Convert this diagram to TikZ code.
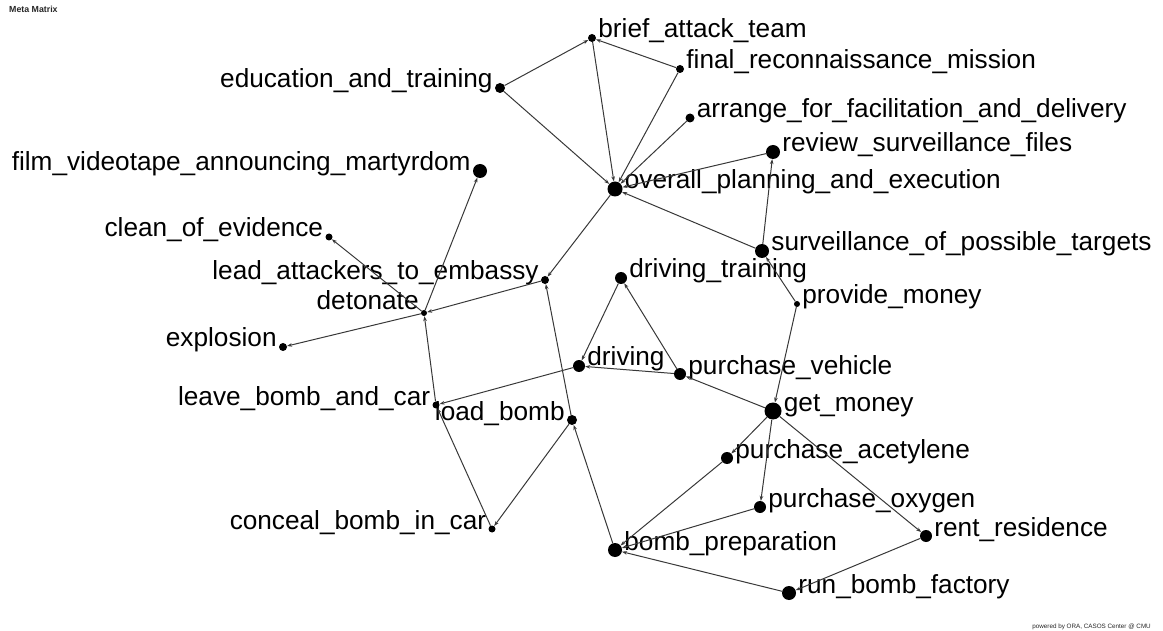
\documentclass[tikz,border=0pt]{standalone}
\usepackage{fontspec}
\setmainfont{Liberation Sans}
\usetikzlibrary{arrows.meta}
\begin{document}
\begin{tikzpicture}[x=1pt,y=-1pt,
  dot/.style={circle,fill=black,inner sep=0pt,minimum size=#1},
  lbl/.style={inner sep=0pt,font=\fontsize{26.2}{30}\selectfont,text=black},
  R/.style={label={[lbl,anchor=base west]east:#1}},
  L/.style={label={[lbl,anchor=base east]west:#1}},
  label distance=2pt,
  edge/.style={draw=black!78,line width=1pt,-{Stealth[length=5pt,width=3.6pt]}}
]
\useasboundingbox (0,0) rectangle (1163,631);

% captions
\node[anchor=base west,inner sep=0pt,font=\bfseries\fontsize{8.8}{9}\selectfont,text=black!85] (title) at (9,13) {Meta Matrix};
\node[anchor=base east,inner sep=0pt,font=\fontsize{6.3}{7}\selectfont,text=black!85] (credit) at (1151,628) {powered by ORA, CASOS Center @ CMU};

% tasks
\node[dot=8pt,R={brief\_attack\_team}] (brief) at (592,38) {};
\node[dot=8pt,R={final\_reconnaissance\_mission}] (final) at (680,69) {};
\node[dot=10pt,L={education\_and\_training}] (edu) at (500,88) {};
\node[dot=9pt,R={arrange\_for\_facilitation\_and\_delivery}] (arrange) at (690,118) {};
\node[dot=14pt,R={review\_surveillance\_files}] (review) at (773,152) {};
\node[dot=14pt,L={film\_videotape\_announcing\_martyrdom}] (film) at (480,171) {};
\node[dot=15pt,R={overall\_planning\_and\_execution}] (overall) at (615,189) {};
\node[dot=7pt,L={clean\_of\_evidence}] (clean) at (329,237) {};
\node[dot=14pt,R={surveillance\_of\_possible\_targets}] (surv) at (762,251) {};
\node[dot=8pt,L={lead\_attackers\_to\_embassy}] (lead) at (545,280) {};
\node[dot=12pt,R={driving\_training}] (dtrain) at (621,278) {};
\node[dot=6pt,R={provide\_money}] (provide) at (797,304) {};
\node[dot=6pt,label={[lbl,anchor=base east,yshift=3pt]west:detonate}] (detonate) at (424,313) {};
\node[dot=8pt,L={explosion}] (explosion) at (283,347) {};
\node[dot=12pt,R={driving}] (driving) at (579,366) {};
\node[dot=12pt,R={purchase\_vehicle}] (pvehicle) at (680,374) {};
\node[dot=7pt,L={leave\_bomb\_and\_car}] (leave) at (436,405) {};
\node[dot=10pt,L={load\_bomb}] (load) at (572,420) {};
\node[dot=17pt,R={get\_money}] (getmoney) at (773,411) {};
\node[dot=12pt,R={purchase\_acetylene}] (acet) at (727,458) {};
\node[dot=12pt,R={purchase\_oxygen}] (oxygen) at (760,507) {};
\node[dot=7pt,L={conceal\_bomb\_in\_car}] (conceal) at (492,529) {};
\node[dot=12pt,R={rent\_residence}] (rent) at (926,536) {};
\node[dot=14pt,R={bomb\_preparation}] (bprep) at (615,550) {};
\node[dot=14pt,R={run\_bomb\_factory}] (factory) at (789,593) {};

% precedence links
\draw[edge] (edu) -- (brief);
\draw[edge] (edu) -- (overall);
\draw[edge] (final) -- (brief);
\draw[edge] (brief) -- (overall);
\draw[edge] (final) -- (overall);
\draw[edge] (arrange) -- (overall);
\draw[edge] (review) -- (overall);
\draw[edge] (surv) -- (review);
\draw[edge] (surv) -- (overall);
\draw[edge] (provide) -- (surv);
\draw[edge] (provide) -- (getmoney);
\draw[edge] (overall) -- (lead);
\draw[edge] (load) -- (lead);
\draw[edge] (lead) -- (detonate);
\draw[edge] (detonate) -- (film);
\draw[edge] (detonate) -- (clean);
\draw[edge] (detonate) -- (explosion);
\draw[edge] (leave) -- (detonate);
\draw[edge] (driving) -- (leave);
\draw[edge] (conceal) -- (leave);
\draw[edge] (load) -- (conceal);
\draw[edge] (pvehicle) -- (dtrain);
\draw[edge] (dtrain) -- (driving);
\draw[edge] (pvehicle) -- (driving);
\draw[edge] (getmoney) -- (pvehicle);
\draw[edge] (getmoney) -- (acet);
\draw[edge] (getmoney) -- (oxygen);
\draw[edge] (getmoney) -- (rent);
\draw[edge] (acet) -- (bprep);
\draw[edge] (oxygen) -- (bprep);
\draw[edge] (rent) -- (factory);
\draw[edge] (factory) -- (bprep);
\draw[edge] (bprep) -- (load);
\end{tikzpicture}
\end{document}
